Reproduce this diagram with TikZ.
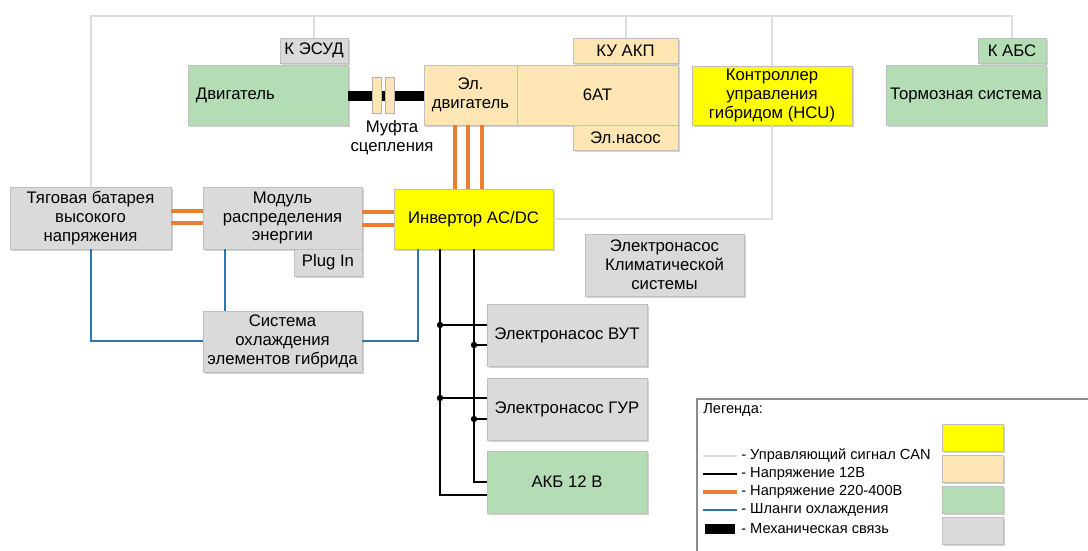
\documentclass[tikz,border=0pt]{standalone}
\usepackage{fontspec}
\setmainfont{Liberation Sans}
\usetikzlibrary{shadows}

\definecolor{yelfill}{HTML}{FFFF00}
\definecolor{beigefill}{HTML}{FDE6B4}
\definecolor{greenfill}{HTML}{B4DDB6}
\definecolor{grayfill}{HTML}{DADADA}
\definecolor{canline}{HTML}{DDDDDD}
\definecolor{hvorange}{HTML}{ED7D31}
\definecolor{coolblue}{HTML}{2E75B6}

\tikzset{
  box/.style={draw=black!25, line width=0.5pt, minimum width=40mm, minimum height=15mm,
    inner sep=1pt, align=center,
    drop shadow={shadow xshift=0.5mm, shadow yshift=-0.5mm, opacity=0.35}},
  tab/.style={box, minimum width=17mm, minimum height=6.25mm},
  can/.style={draw=canline, line width=0.5mm},
  hv/.style={draw=hvorange, line width=1mm},
  lv/.style={draw=black, line width=0.45mm},
  cool/.style={draw=coolblue, line width=0.5mm},
  mech/.style={draw=black, line width=2.4mm},
  jn/.style={circle, fill=black, inner sep=0pt, minimum size=1.6mm},
  legtext/.style={anchor=west, inner sep=0pt, font=\fontsize{10.4}{12}\selectfont}
}

\begin{document}
\begin{tikzpicture}[x=0.25mm, y=-0.25mm, font=\fontsize{11.9}{13.4}\selectfont]
  \path[fill=white, use as bounding box] (0,0) rectangle (1088,551);

  % top row
  \node[tab, fill=grayfill] (ESUD) at (314,50.5) {К ЭСУД};
  \node[box, fill=greenfill, text width=36mm, align=left] (DVIG) at (268,95) {Двигатель};
  \node[box, fill=beigefill, minimum width=23.25mm] (EDVIG) at (470.5,95) {Эл.\\двигатель};
  \node[box, fill=beigefill, minimum width=40.25mm] (AT) at (597.5,95) {6АТ};
  \node[tab, fill=beigefill, minimum width=26.25mm] (KUAKP) at (625.5,50.5) {КУ АКП};
  \node[tab, fill=beigefill, minimum width=26.25mm] (NASOS) at (625.5,137.5) {Эл.насос};
  \node[box, fill=yelfill, minimum height=14.75mm] (HCU) at (772,95.5) {Контроллер\\управления\\гибридом (HCU)};
  \node[tab, fill=greenfill] (KABS) at (1012,50.5) {К АБС};
  \node[box, fill=greenfill] (TORM) at (966,95) {Тормозная система};

  % middle row
  \node[box, fill=grayfill, minimum width=40.25mm, minimum height=15.5mm] (BAT) at (90.5,218) {Тяговая батарея\\высокого\\напряжения};
  \node[box, fill=grayfill, minimum width=39.75mm, minimum height=15.5mm] (MOD) at (282.5,218) {Модуль\\распределения\\энергии};
  \node[tab, fill=grayfill, minimum height=6.75mm] (PLUG) at (328,262.5) {Plug In};
  \node[box, fill=yelfill, minimum width=39.75mm] (INV) at (473.5,219) {Инвертор AC/DC};
  \node[box, fill=grayfill, minimum width=39.75mm, minimum height=15.5mm] (KLIM) at (664.5,265) {Электронасос\\Климатической\\системы};

  % lower part
  \node[box, fill=grayfill, minimum width=39.75mm, minimum height=15.25mm] (COOL) at (282.5,341.5) {Система\\охлаждения\\элементов гибрида};
  \node[box, fill=grayfill, minimum height=15.5mm] (VUT) at (567,335) {Электронасос ВУТ};
  \node[box, fill=grayfill, minimum height=15.5mm] (GUR) at (567,409) {Электронасос ГУР};
  \node[box, fill=greenfill, minimum height=15.5mm] (AKB) at (567,482) {АКБ 12 В};

  % CAN
  \draw[can] (BAT.north) -- (BAT.north |- 0,16) -| (KABS.north);
  \draw[can] (ESUD.north) -- (ESUD.north |- 0,16);
  \draw[can] (KUAKP.north) -- (KUAKP.north |- 0,16);
  \draw[can] (HCU.north) -- (HCU.north |- 0,16);
  \draw[can] (INV.east) -| (HCU.south);

  % clutch
  \draw[mech] (DVIG.east |- 0,96) -- (EDVIG.west |- 0,96);
  \node[draw=black!30, fill=beigefill, minimum width=2.25mm, minimum height=9mm, inner sep=0pt] (CL1) at (376.5,95.5) {};
  \node[draw=black!30, fill=beigefill, minimum width=2.25mm, minimum height=9mm, inner sep=0pt] (CL2) at (389.5,95.5) {};
  \node[align=center] (MUFTA) at (392,137.5) {Муфта\\сцепления};

  % 220-400V
  \draw[hv] (BAT.east |- 0,211) -- (MOD.west |- 0,211);
  \draw[hv] (BAT.east |- 0,223) -- (MOD.west |- 0,223);
  \draw[hv] (MOD.east |- 0,212) -- (INV.west |- 0,212);
  \draw[hv] (MOD.east |- 0,225) -- (INV.west |- 0,225);
  \draw[hv] (EDVIG.south -| 455,0) -- (INV.north -| 455,0);
  \draw[hv] (EDVIG.south -| 468,0) -- (INV.north -| 468,0);
  \draw[hv] (EDVIG.south -| 482,0) -- (INV.north -| 482,0);

  % cooling
  \draw[cool] (BAT.south -| 91,0) |- (COOL.west);
  \draw[cool] (MOD.south -| 225,0) -- (COOL.north -| 225,0);
  \draw[cool] (INV.south -| 418,0) |- (COOL.east);

  % 12V
  \coordinate (LV1) at (440,495);
  \coordinate (LV2) at (474,482);
  \draw[lv] (INV.south -| LV1) |- (AKB.west |- LV1);
  \draw[lv] (INV.south -| LV2) |- (AKB.west |- LV2);
  \node[jn] (J1) at (440,325) {};
  \node[jn] (J2) at (474,345) {};
  \node[jn] (J3) at (440,398) {};
  \node[jn] (J4) at (474,419) {};
  \draw[lv] (J1.center) -- (VUT.west |- J1);
  \draw[lv] (J2.center) -- (VUT.west |- J2);
  \draw[lv] (J3.center) -- (GUR.west |- J3);
  \draw[lv] (J4.center) -- (GUR.west |- J4);

  %%% legend
  \draw[black!45, line width=0.3mm] (697,551) -- (697,399) -- (1088,399);
  \node[legtext] (LEG) at (703,410) {Легенда:};
  \draw[can] (703,456) -- (737,456);
  \node[legtext] (LCAN) at (741,456) {- Управляющий сигнал CAN};
  \draw[lv] (703,474) -- (737,474);
  \node[legtext] (LLV) at (741,474) {- Напряжение 12В};
  \draw[hv] (703,492) -- (737,492);
  \node[legtext] (LHV) at (741,492) {- Напряжение 220-400В};
  \draw[cool] (703,510) -- (737,510);
  \node[legtext] (LCOOL) at (741,510) {- Шланги охлаждения};
  \draw[mech] (705,529) -- (735,529);
  \node[legtext] (LMECH) at (741,529) {- Механическая связь};

  \node[box, fill=yelfill, minimum width=15.25mm, minimum height=6.75mm] (KEYY) at (972.5,437.5) {};
  \node[box, fill=beigefill, minimum width=15.25mm, minimum height=6.75mm] (KEYB) at (972.5,468.5) {};
  \node[box, fill=greenfill, minimum width=15.25mm, minimum height=6.75mm] (KEYG) at (972.5,499.5) {};
  \node[box, fill=grayfill, minimum width=15.25mm, minimum height=6.75mm] (KEYR) at (972.5,530.5) {};
\end{tikzpicture}
\end{document}
